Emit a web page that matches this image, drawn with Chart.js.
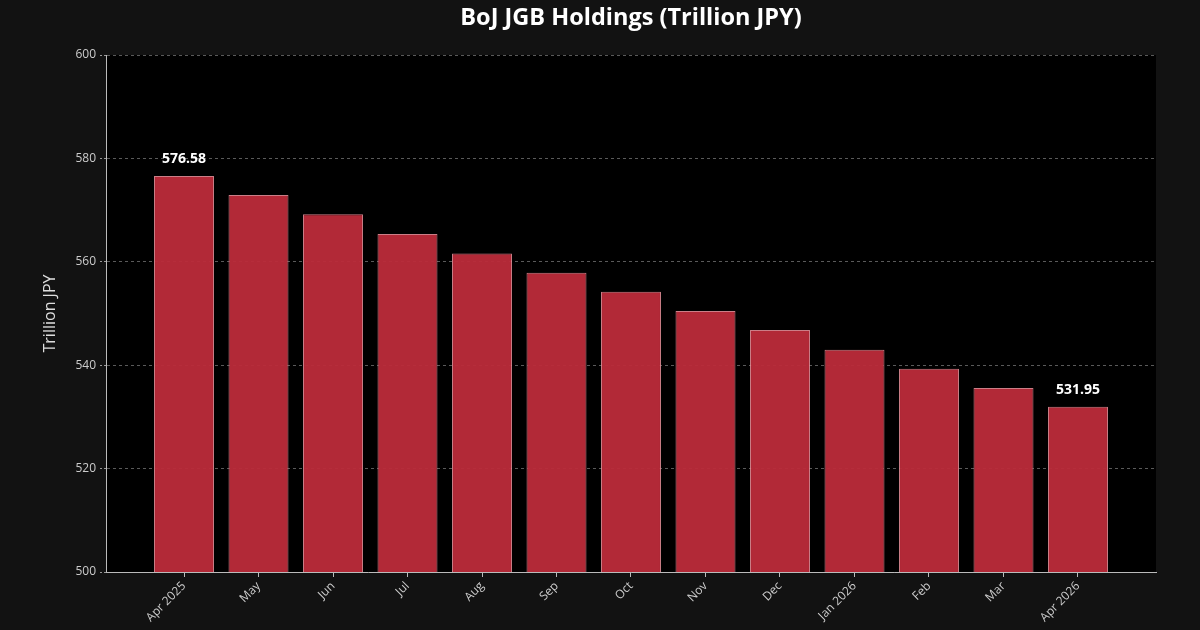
<!DOCTYPE html>
<html>
<head>
<meta charset="utf-8">
<script src="https://cdn.jsdelivr.net/npm/chart.js@4/dist/chart.umd.min.js"></script>
<style>
html,body{margin:0;padding:0;background:#121212;}
#wrap{width:1200px;height:630px;}
</style>
</head>
<body>
<div id="wrap"><canvas id="c" width="1200" height="630"></canvas></div>
<script>
const categories = ["Apr 2025","May","Jun","Jul","Aug","Sep","Oct","Nov","Dec","Jan 2026","Feb","Mar","Apr 2026"];
const holdings = [576.58, 572.9, 569.2, 565.4, 561.6, 557.9, 554.2, 550.5, 546.8, 543.0, 539.3, 535.6, 531.95];
const labelledIndices = [0, 12];
const yTicks = [500, 520, 540, 560, 580, 600];
const chartTitle = "BoJ JGB Holdings (Trillion JPY)";
const yTitle = "Trillion JPY";

const FONT = "'Open Sans', 'Noto Sans', sans-serif";

const bgPlugin = {
  id: 'bg',
  beforeDraw(chart) {
    const {ctx, chartArea: a} = chart;
    ctx.save();
    ctx.fillStyle = '#121212';
    ctx.fillRect(0, 0, chart.width, chart.height);
    ctx.fillStyle = '#000000';
    ctx.fillRect(a.left, a.top, a.right - a.left, a.bottom - a.top);
    ctx.restore();
  }
};

const plotTitle = {
  id: 'plotTitle',
  afterDraw(chart) {
    const {ctx, chartArea: a} = chart;
    ctx.save();
    ctx.font = "bold 23.5px " + FONT;
    ctx.fillStyle = '#ffffff';
    ctx.textAlign = 'center';
    ctx.textBaseline = 'middle';
    ctx.fillText(chartTitle, (a.left + a.right) / 2, 18);
    ctx.restore();
  }
};

const valueLabels = {
  id: 'valueLabels',
  afterDatasetsDraw(chart) {
    const {ctx} = chart;
    const meta = chart.getDatasetMeta(0);
    ctx.save();
    ctx.font = "bold 14px " + FONT;
    ctx.fillStyle = '#ffffff';
    ctx.textAlign = 'center';
    ctx.textBaseline = 'bottom';
    labelledIndices.forEach(i => {
      const el = meta.data[i];
      ctx.fillText(holdings[i].toFixed(2), el.x, el.y - 10);
    });
    ctx.restore();
  }
};

new Chart(document.getElementById('c'), {
  type: 'bar',
  data: {
    datasets: [{
      data: holdings.map((v, i) => ({x: i, y: v})),
      backgroundColor: 'rgba(188, 43, 58, 0.95)',
      borderColor: 'rgba(225, 140, 150, 0.9)',
      borderWidth: 1,
      barPercentage: 0.805,
      categoryPercentage: 1.0
    }]
  },
  options: {
    responsive: false,
    animation: false,
    devicePixelRatio: 1,
    layout: {padding: {left: 0, right: 44, top: 55, bottom: 0}},
    plugins: {
      legend: {display: false},
      tooltip: {enabled: false},
      title: {display: false}
    },
    scales: {
      x: {
        type: 'linear',
        min: -1.047,
        max: 13.047,
        offset: false,
        bounds: 'data',
        afterBuildTicks: s => { s.ticks = categories.map((_, i) => ({value: i})); },
        afterFit: s => { s.height = 58; },
        ticks: {
          autoSkip: false,
          maxRotation: 45,
          minRotation: 45,
          color: '#cccccc',
          font: {family: FONT, size: 12},
          padding: 2,
          callback: v => categories[v] ?? ''
        },
        grid: {
          offset: false,
          drawOnChartArea: false,
          drawTicks: true,
          tickLength: 5,
          tickColor: '#bbbbbb',
          tickWidth: 1
        },
        border: {display: true, color: '#bbbbbb', width: 1}
      },
      y: {
        min: 500,
        max: 600,
        afterBuildTicks: s => { s.ticks = yTicks.map(v => ({value: v})); },
        afterFit: s => { s.width = 106; },
        title: {
          display: true,
          text: yTitle,
          color: '#dddddd',
          font: {family: FONT, size: 16},
          padding: {top: 41, bottom: 0}
        },
        ticks: {
          color: '#cccccc',
          font: {family: FONT, size: 12},
          padding: 4
        },
        grid: {
          color: 'rgba(120,120,120,0.75)',
          lineWidth: 1,
          drawTicks: true,
          tickLength: 6,
          tickColor: '#999999',
          tickBorderDash: [2, 2]
        },
        border: {display: true, color: '#bbbbbb', width: 1, dash: [3, 3]}
      }
    }
  },
  plugins: [bgPlugin, valueLabels, plotTitle]
});
</script>
</body>
</html>
